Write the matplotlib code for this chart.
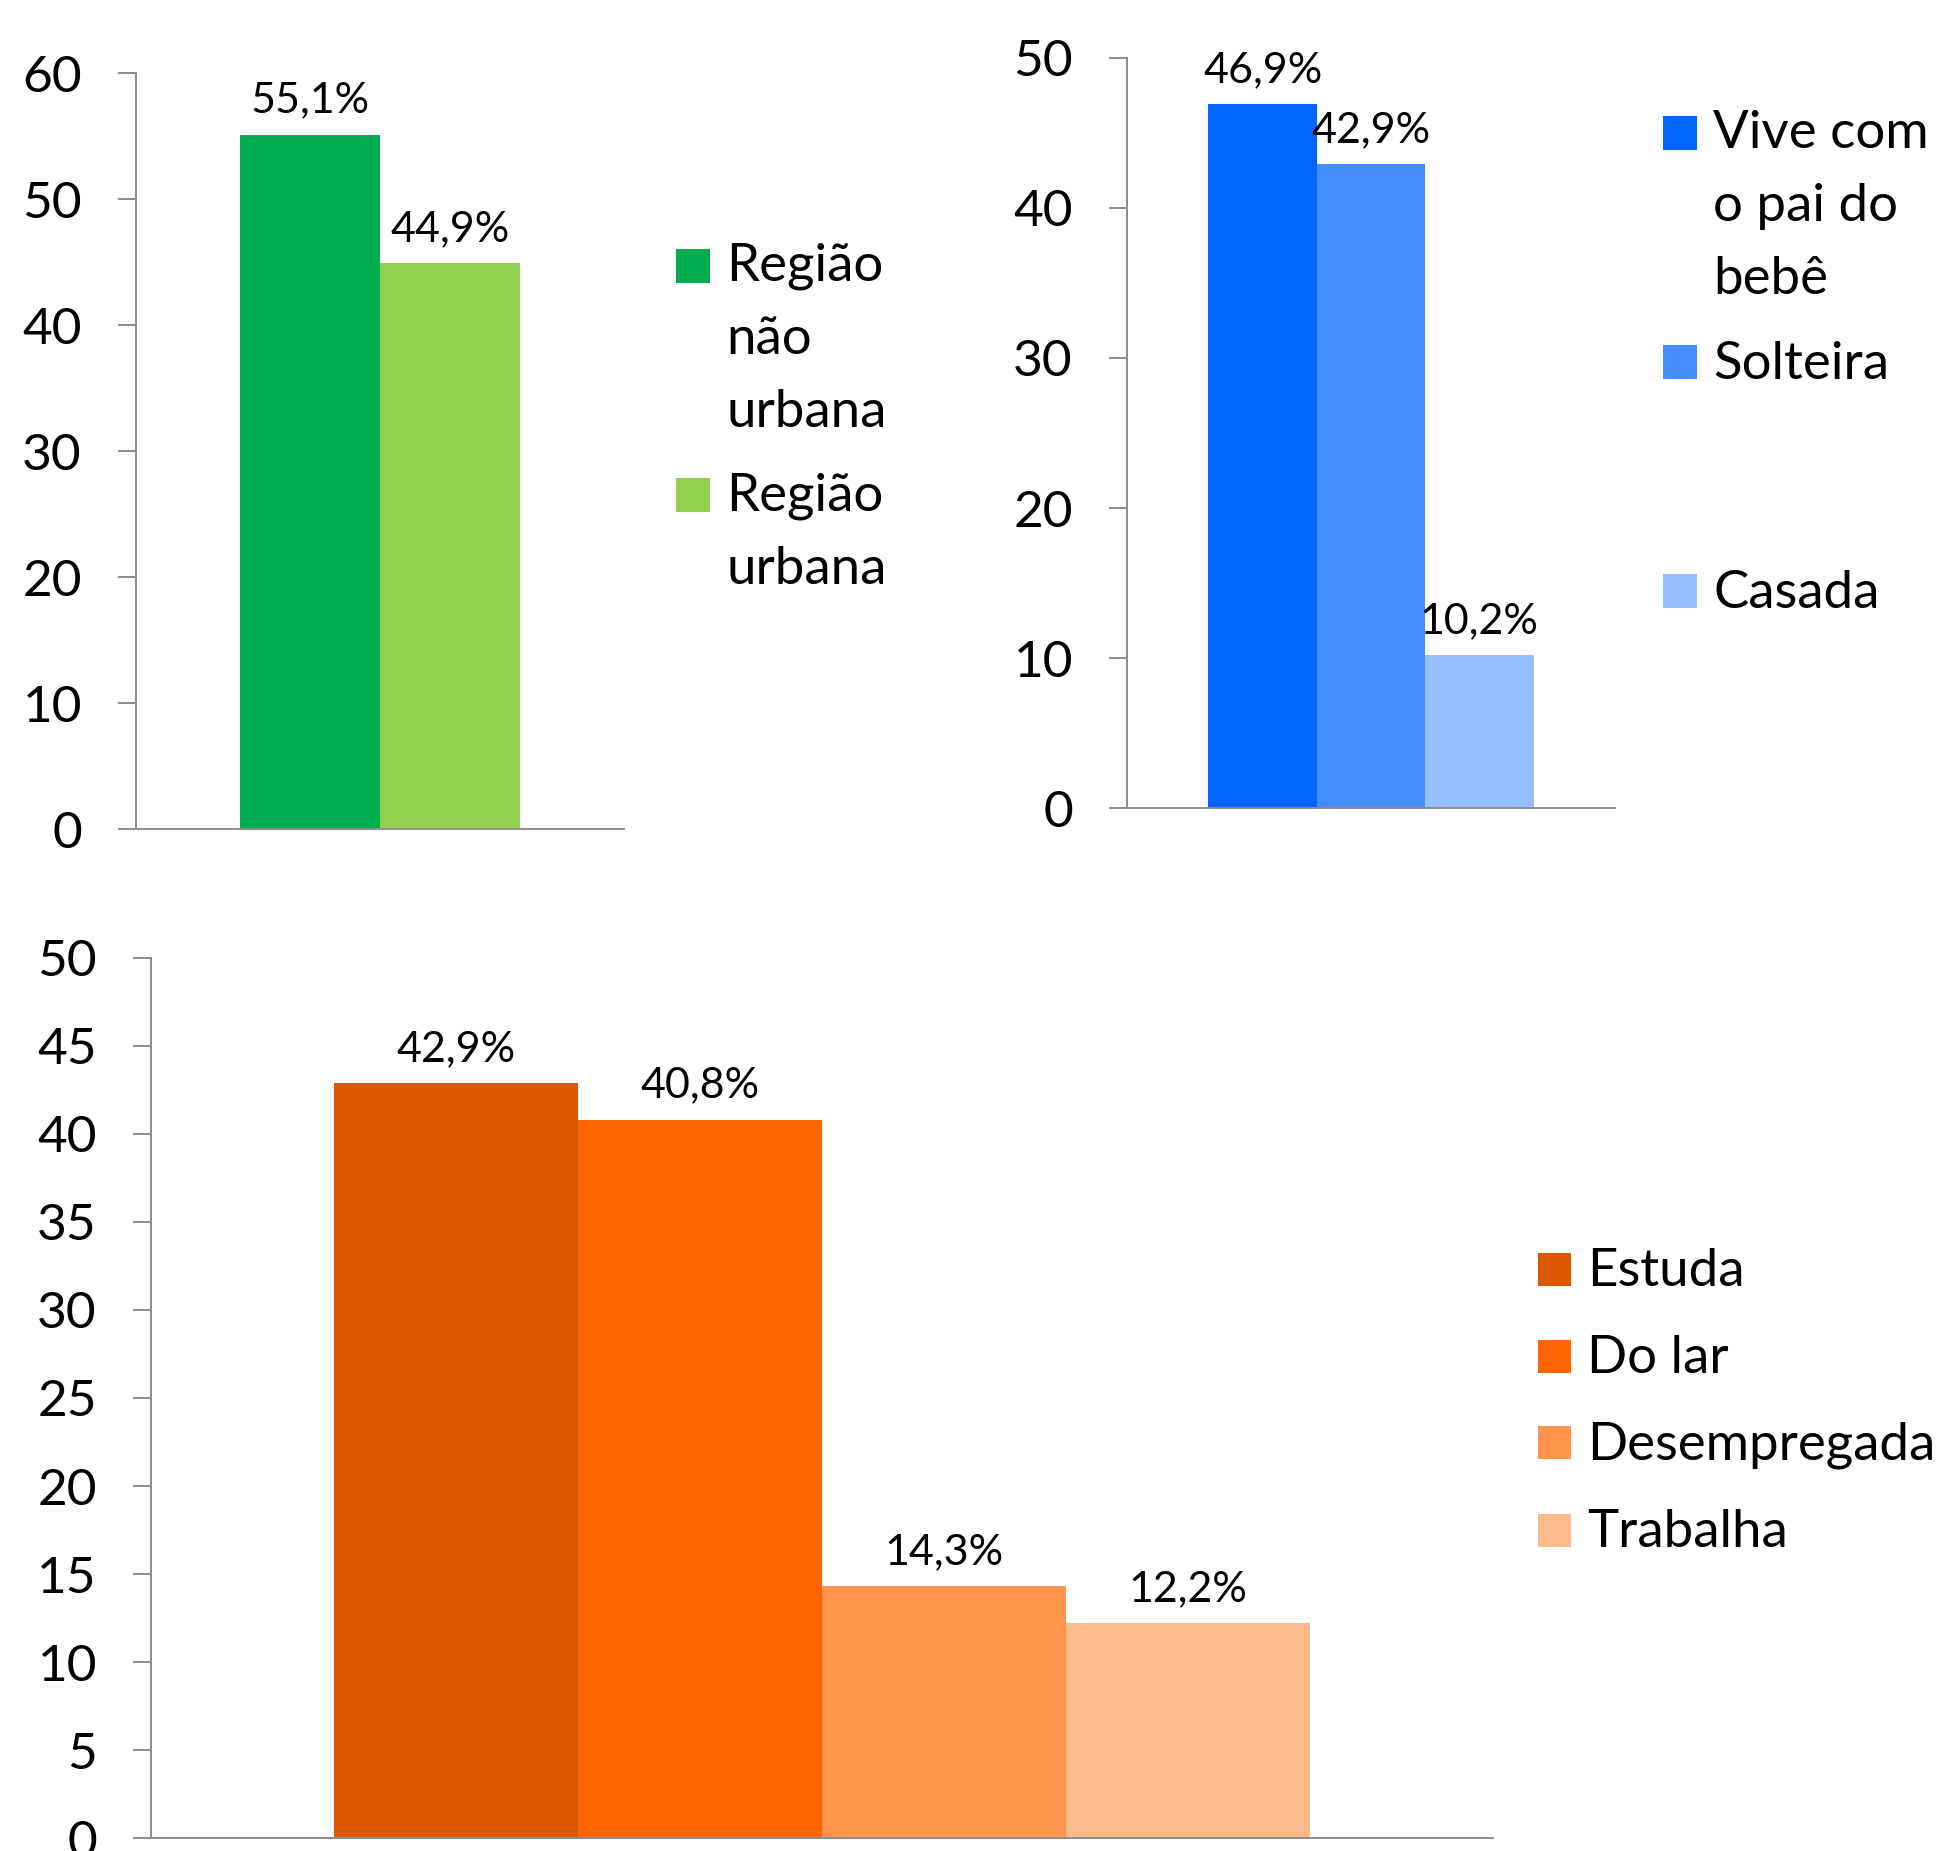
import matplotlib
matplotlib.use("Agg")
import matplotlib.pyplot as plt
from matplotlib.patches import Rectangle

plt.rcParams['font.family'] = ['Lato', 'DejaVu Sans']

# dados
regiao_labels = ['Região\nnão\nurbana', 'Região\nurbana']
regiao_vals = [55.1, 44.9]
regiao_cores = ['#00AD4E', '#92D050']

civil_labels = ['Vive com\no pai do\nbebê', 'Solteira', 'Casada']
civil_vals = [46.9, 42.9, 10.2]
civil_cores = ['#0066FF', '#458EFF', '#96BFFF']

ocup_labels = ['Estuda', 'Do lar', 'Desempregada', 'Trabalha']
ocup_vals = [42.9, 40.8, 14.3, 12.2]
ocup_cores = ['#DA5800', '#FF6600', '#FF944D', '#FDBB8C']

W, H = 1952, 1851
fig = plt.figure(figsize=(W / 100, H / 100), dpi=100)
GRAY = '#8C8C8C'
LINHA = 72  # distancia entre linhas da legenda, em px


def eixo(x0, y0, x1, y1):
    # caixa em pixels (y de cima para baixo)
    return fig.add_axes([x0 / W, 1 - y1 / H, (x1 - x0) / W, (y1 - y0) / H])


def barras(ax, vals, cores, largura, ymax, passo, fs_tick, fs_lab):
    n = len(vals)
    for i, (v, c) in enumerate(zip(vals, cores)):
        x = 0.5 + (i - (n - 1) / 2) * largura
        ax.bar(x, v, width=largura, color=c, linewidth=0)
        ax.annotate(f'{v:.1f}%'.replace('.', ','), (x, v), xytext=(0, 16),
                    textcoords='offset points', ha='center', va='baseline',
                    fontsize=fs_lab)
    ax.set_xlim(0, 1)
    ax.set_ylim(0, ymax)
    ax.set_yticks(range(0, ymax + 1, passo))
    ax.set_xticks([])
    for s in ['top', 'right']:
        ax.spines[s].set_visible(False)
    for s in ['left', 'bottom']:
        ax.spines[s].set_color(GRAY)
        ax.spines[s].set_linewidth(1.4)
    ax.tick_params(axis='y', length=13, width=1.4, color=GRAY, pad=26,
                   labelsize=fs_tick)
    ax.set_facecolor('none')


def legenda(x, bases, labels, cores, lado, fs):
    for b, lab, c in zip(bases, labels, cores):
        fig.add_artist(Rectangle((x / W, 1 - b / H), lado / W, lado / H,
                                 transform=fig.transFigure, color=c, lw=0))
        # va='baseline' alinha a ultima linha
        b_ult = b + (lab.count('\n')) * LINHA
        fig.text((x + lado + 16) / W, 1 - b_ult / H, lab, fontsize=fs,
                 va='baseline', ha='left', linespacing=1.68)


ax1 = eixo(136, 73, 624, 829)
barras(ax1, regiao_vals, regiao_cores, 0.286, 60, 10, 37, 31)
legenda(676, [283, 512], regiao_labels, regiao_cores, 34, 38)

ax2 = eixo(1127, 58, 1615, 808)
barras(ax2, civil_vals, civil_cores, 0.222, 50, 10, 37, 31)
legenda(1663, [150, 379, 608], civil_labels, civil_cores, 34, 38)

ax3 = eixo(151, 958, 1493, 1838)
barras(ax3, ocup_vals, ocup_cores, 0.182, 50, 5, 37, 31)
legenda(1538, [1286, 1373, 1459, 1547], ocup_labels, ocup_cores, 33, 38)

fig.savefig('out.png', dpi=100)
